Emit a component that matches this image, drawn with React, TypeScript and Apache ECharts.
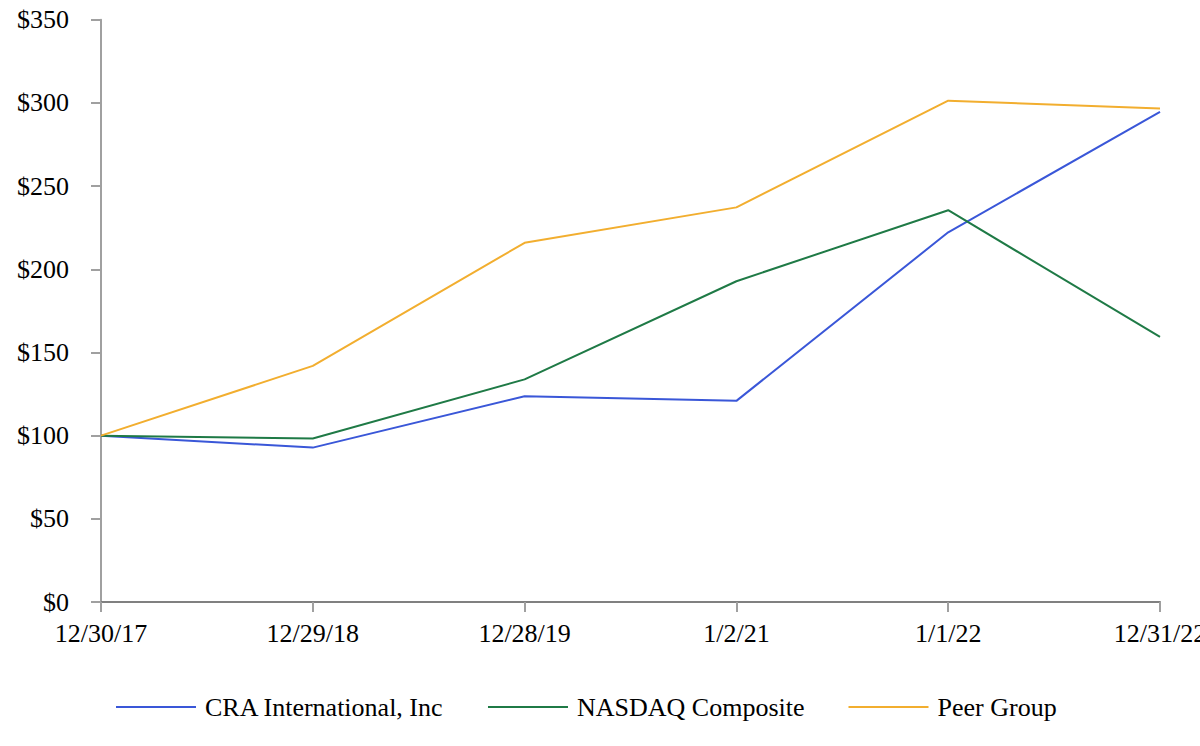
import React, { useEffect, useRef } from "react";
import * as echarts from "echarts";

const categories = ["12/30/17", "12/29/18", "12/28/19", "1/2/21", "1/1/22", "12/31/22"];
const craValues = [100, 92.8, 123.7, 120.9, 222.2, 294.6];
const nasdaqValues = [100, 98.3, 133.8, 192.8, 235.5, 159.3];
const peerValues = [100, 141.9, 215.9, 237.2, 301.3, 296.7];
const seriesNames = ["CRA International, Inc", "NASDAQ Composite", "Peer Group"];
const colors = ["#3a57d8", "#1f7a46", "#f2ae2f"];

const FONT = "'Liberation Serif', 'Times New Roman', serif";

export default function App() {
  const ref = useRef<HTMLDivElement>(null);
  useEffect(() => {
    if (!ref.current) return;
    const chart = echarts.init(ref.current, undefined, { renderer: "svg" });
    const mk = (name: string, data: number[], color: string) => ({
      name,
      type: "line",
      data,
      symbol: "none",
      showSymbol: false,
      lineStyle: { color, width: 2 },
      itemStyle: { color },
    });
    chart.setOption({
      animation: false,
      backgroundColor: "#ffffff",
      textStyle: { fontFamily: FONT },
      grid: {
        left: 101,
        right: 40,
        top: 19.7,
        bottom: 144,
        containLabel: false,
        outerBoundsMode: "none",
      },
      legend: {
        left: 111,
        top: 689,
        icon: "rect",
        itemWidth: 80,
        itemHeight: 2,
        itemGap: 44,
        textStyle: { fontFamily: FONT, fontSize: 26, color: "#000", padding: [0, 0, 0, 4] },
        data: seriesNames,
      },
      xAxis: {
        type: "category",
        data: categories,
        boundaryGap: false,
        axisLine: { show: true, lineStyle: { color: "#808080", width: 2 } },
        axisTick: { show: true, length: 10, alignWithLabel: true, lineStyle: { color: "#a0a0a0", width: 2 } },
        axisLabel: { fontFamily: FONT, fontSize: 26, color: "#000", margin: 18, interval: 0 },
        splitLine: { show: false },
      },
      yAxis: {
        type: "value",
        min: 0,
        max: 350,
        interval: 50,
        axisLine: { show: true, lineStyle: { color: "#a0a0a0", width: 2 } },
        axisTick: { show: true, length: 10, lineStyle: { color: "#a0a0a0", width: 2 } },
        axisLabel: {
          fontFamily: FONT,
          fontSize: 26,
          color: "#000",
          margin: 32,
          formatter: (v: number) => "$" + v,
        },
        splitLine: { show: false },
      },
      series: [
        mk(seriesNames[0], craValues, colors[0]),
        mk(seriesNames[1], nasdaqValues, colors[1]),
        mk(seriesNames[2], peerValues, colors[2]),
      ],
    });
    return () => chart.dispose();
  }, []);
  return (
    <div
      ref={ref}
      style={{ position: "fixed", left: 0, top: 0, width: 1200, height: 746, background: "#fff" }}
    />
  );
}
